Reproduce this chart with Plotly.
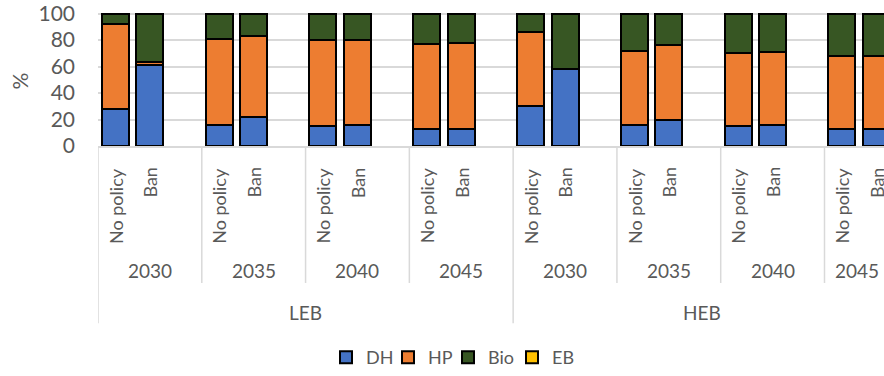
import plotly.graph_objects as go

# Category hierarchy: building type > year > policy
buildings = ["LEB", "HEB"]
years = ["2030", "2035", "2040", "2045"]
policies = ["No policy", "Ban"]

# Heating-technology shares (%), ordered LEB 2030..2045 then HEB 2030..2045,
# with "No policy" followed by "Ban" inside each year
dh = [28, 61, 16, 22, 15, 16, 13, 13,
      30, 58, 16, 20, 15, 15.5, 12.5, 12.5]
hp = [64, 2.5, 65, 61, 65, 64, 64, 64.5,
      56, 0, 56, 56, 55.5, 55.5, 55.5, 55.5]
bio = [8, 36.5, 19, 17, 20, 20, 23, 22.5,
       14, 42, 28, 24, 29.5, 29, 32, 32]
eb = [0, 0, 0, 0, 0, 0, 0, 0,
      0, 0, 0, 0, 0, 0, 0, 0]

series = [("DH", dh, "#4472C4"), ("HP", hp, "#ED7D31"),
          ("Bio", bio, "#375623"), ("EB", eb, "#FFC000")]
# legend entry widths (px); 0 lets the entry size itself to its text
legend_widths = [17, 15, 19, 0]

# Layout geometry
W, H = 884, 376
M_L, M_T, M_B = 98, 11, 228
PLOT_H = H - M_T - M_B
Y_MAX = 102               # a little headroom so the 100 gridline is kept
SLOTS = 3                 # two bars plus one empty slot per year group
X_MAX = 22.22             # right edge of the visible category range
LABEL_EDGE = 22.4         # labels of clipped spans centre on the visible part
TEXT = "#595959"
GRID = "#D9D9D9"
FONT = "Lato"


def paper_y(px):
    """Convert a pixel row of the page into paper coordinates."""
    return (H - M_B - px) / PLOT_H


n_years = len(years)
n_pol = len(policies)
xs, pol_labels = [], []
for b in range(len(buildings)):
    for yi in range(n_years):
        for pi in range(n_pol):
            g = b * n_years + yi
            xs.append(g * SLOTS + pi)
            pol_labels.append(policies[pi])

fig = go.Figure()
for (name, vals, color), lw in zip(series, legend_widths):
    fig.add_trace(go.Bar(
        x=xs, y=vals, name=name, width=0.78, legendwidth=lw,
        marker=dict(color=color, line=dict(color="#000000", width=2)),
    ))

annotations = []
shapes = []

# policy labels (rotated, top aligned)
for x, lab in zip(xs, pol_labels):
    annotations.append(dict(
        x=x, y=paper_y(168), xref="x", yref="paper", text=lab,
        textangle=-90, showarrow=False, xanchor="center", yanchor="top",
        font=dict(family=FONT, size=18, color=TEXT)))

n_groups = len(buildings) * n_years
for g in range(n_groups):
    start = g * SLOTS - 0.5
    end = min(start + SLOTS, LABEL_EDGE)
    annotations.append(dict(
        x=(start + end) / 2, y=paper_y(274), xref="x", yref="paper",
        text=years[g % n_years], showarrow=False,
        xanchor="center", yanchor="middle",
        font=dict(family=FONT, size=19, color=TEXT)))
    bottom = 328 if g % n_years == 0 else 287
    shapes.append(dict(
        type="line", xref="x", yref="paper", x0=start, x1=start,
        y0=0, y1=paper_y(bottom), line=dict(color=GRID, width=1.5),
        layer="below"))

for b, name in enumerate(buildings):
    start = b * n_years * SLOTS - 0.5
    end = min(start + n_years * SLOTS, LABEL_EDGE)
    annotations.append(dict(
        x=(start + end) / 2, y=paper_y(317), xref="x", yref="paper",
        text=name, showarrow=False, xanchor="center", yanchor="middle",
        font=dict(family=FONT, size=19, color=TEXT)))

# y-axis title
annotations.append(dict(
    x=(19.5 - M_L) / (W - M_L), y=paper_y(82), xref="paper", yref="paper",
    text="%", textangle=-90, showarrow=False,
    xanchor="center", yanchor="middle",
    font=dict(family=FONT, size=21, color=TEXT)))

fig.update_layout(
    width=W, height=H,
    margin=dict(l=M_L, r=0, t=M_T, b=M_B, pad=0),
    barmode="stack",
    plot_bgcolor="white", paper_bgcolor="white",
    font=dict(family=FONT, color=TEXT),
    showlegend=True,
    legend=dict(
        orientation="h", traceorder="normal",
        x=(326 - M_L) / (W - M_L), xanchor="left",
        y=paper_y(363), yanchor="middle",
        font=dict(family=FONT, size=18, color=TEXT),
        itemwidth=30, tracegroupgap=0,
    ),
    xaxis=dict(
        range=[-0.5, X_MAX], showticklabels=False, showgrid=False,
        zeroline=False, showline=True, linecolor=GRID, linewidth=1.5,
        ticks="", automargin=False,
    ),
    yaxis=dict(
        range=[0, Y_MAX], tickvals=[0, 20, 40, 60, 80, 100],
        showgrid=True, gridcolor=GRID, gridwidth=1.5, zeroline=False,
        showline=False, ticks="", ticklabelstandoff=22,
        ticklabeloverflow="allow",
        tickfont=dict(family=FONT, size=21, color=TEXT),
        automargin=False,
    ),
    annotations=annotations,
    shapes=shapes,
    bargap=0,
)

fig.write_html("out.html")
